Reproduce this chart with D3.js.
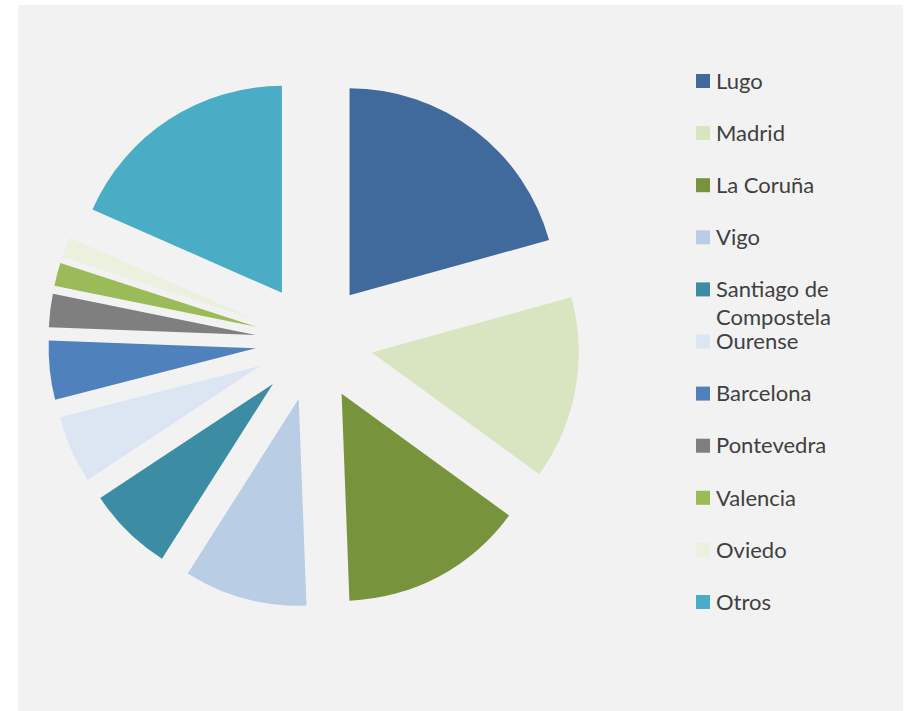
<!DOCTYPE html>
<html>
<head>
  <meta charset="utf-8">
  <title>Pie chart - exploded</title>
  <script src="https://cdnjs.cloudflare.com/ajax/libs/d3/7.8.5/d3.min.js"></script>
  <style>
    body { margin: 0; background: #fff; }
  </style>
</head>
<body>
  <script>
    const width = 912, height = 711;
    const categories = ["Lugo", "Madrid", "La Coruña", "Vigo", "Santiago de Compostela",
      "Ourense", "Barcelona", "Pontevedra", "Valencia", "Oviedo", "Otros"];
    const values = [20.7, 14.3, 14.4, 9.6, 6.7, 5.3, 4.6, 2.6, 1.8, 1.6, 18.4];
    const colors = ["#40699c", "#d9e5c1", "#77933c", "#b9cde5", "#3c8da3",
      "#dce6f2", "#4f81bd", "#7f7f7f", "#9bbb59", "#ebf1de", "#4bacc6"];

    const cx = 314, cy = 342, radius = 207, explode = 58.7;

    const svg = d3.select("body").append("svg")
      .attr("width", width)
      .attr("height", height);

    svg.append("rect")
      .attr("x", 18).attr("y", 5)
      .attr("width", 885).attr("height", 706)
      .attr("fill", "#f2f2f2");

    const color = d3.scaleOrdinal().domain(categories).range(colors);

    const pie = d3.pie().sort(null).value(d => d.value);
    const arc = d3.arc().innerRadius(0).outerRadius(radius);

    const data = categories.map((c, i) => ({ name: c, value: values[i] }));

    const g = svg.append("g")
      .attr("transform", `translate(${cx},${cy})`);

    g.selectAll("path")
      .data(pie(data))
      .enter()
      .append("path")
      .attr("transform", d => {
        const mid = (d.startAngle + d.endAngle) / 2;
        return `translate(${Math.sin(mid) * explode},${-Math.cos(mid) * explode})`;
      })
      .attr("d", arc)
      .attr("fill", d => color(d.data.name));

    // legend
    const legendY = d3.scalePoint()
      .domain(categories)
      .range([81, 602]);

    const legend = svg.append("g").attr("class", "legend");
    const item = legend.selectAll("g")
      .data(categories)
      .enter()
      .append("g")
      .attr("transform", d => `translate(696,${legendY(d)})`);

    item.append("rect")
      .attr("x", 0).attr("y", -7)
      .attr("width", 14).attr("height", 14)
      .attr("fill", d => color(d));

    item.append("text")
      .attr("x", 20)
      .attr("y", 0)
      .attr("dy", "0.35em")
      .attr("font-family", "Lato, 'Open Sans', sans-serif")
      .attr("font-size", 22)
      .attr("fill", "#404040")
      .each(function (d) {
        const t = d3.select(this);
        if (d === "Santiago de Compostela") {
          t.append("tspan").attr("x", 20).text("Santiago de");
          t.append("tspan").attr("x", 20).attr("dy", 28).text("Compostela");
        } else {
          t.text(d);
        }
      });
  </script>
</body>
</html>
